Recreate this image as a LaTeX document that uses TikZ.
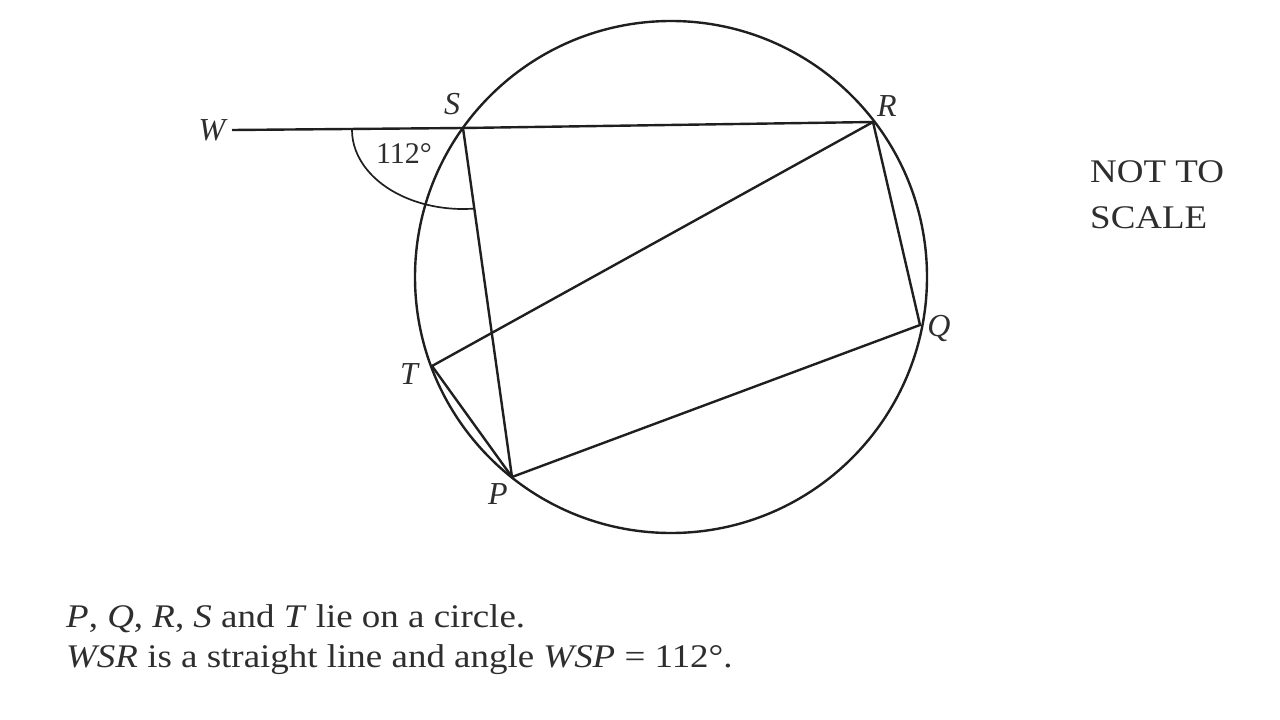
\documentclass[tikz,border=0pt]{standalone}
\usepackage{fontspec}
\setmainfont{Liberation Serif}
\newcommand\widetxt[1]{\scalebox{1.12}[1]{#1}}
\begin{document}
\begin{tikzpicture}[x=1pt,y=-1pt,
  geo/.style={line width=2.4pt,draw=black!88},
  lbl/.style={inner sep=0pt,text=black!82,font=\fontsize{32}{38}\selectfont\itshape},
  txt/.style={inner sep=0pt,text=black!82,font=\fontsize{33}{40}\selectfont,anchor=base west}]
\fill[white] (0,0) rectangle (1280,720);
\useasboundingbox (0,0) rectangle (1280,720);
\coordinate (O) at (671,277);
\coordinate (S) at (463,128);
\coordinate (R) at (873,122);
\coordinate (Q) at (920,325);
\coordinate (T) at (432,366);
\coordinate (P) at (512,477);
\coordinate (Wend) at (232,130);
\draw[geo] (O) circle[radius=256];
\draw[geo] (Wend) -- (S) -- (R);
\draw[geo] (S) -- (P);
\draw[geo] (R) -- (T) -- (P) -- (Q) -- (R);
\draw[line width=1.7pt,draw=black!88] (S) ++(-111,2) arc[start angle=180,end angle=84,x radius=111,y radius=79];
\node[lbl] (Wl) at (212,130) {W};
\node[lbl] (Sl) at (452,104) {S};
\node[lbl] (Rl) at (887,106) {R};
\node[lbl] (Ql) at (939,328) {Q};
\node[lbl] (Tl) at (409,374) {T};
\node[lbl] (Pl) at (498,494) {P};
\node[inner sep=0pt,text=black!82,font=\fontsize{30}{36}\selectfont] (ang) at (404,154) {112°};
\node[txt] (n1) at (1090,182) {\widetxt{NOT TO}};
\node[txt] (n2) at (1090,228) {\widetxt{SCALE}};
\node[txt] (b1) at (66,627) {\widetxt{\textit{P}, \textit{Q}, \textit{R}, \textit{S} and \textit{T} lie on a circle.}};
\node[txt] (b2) at (66,667) {\widetxt{\textit{WSR} is a straight line and angle \textit{WSP} = 112°.}};
\end{tikzpicture}
\end{document}
